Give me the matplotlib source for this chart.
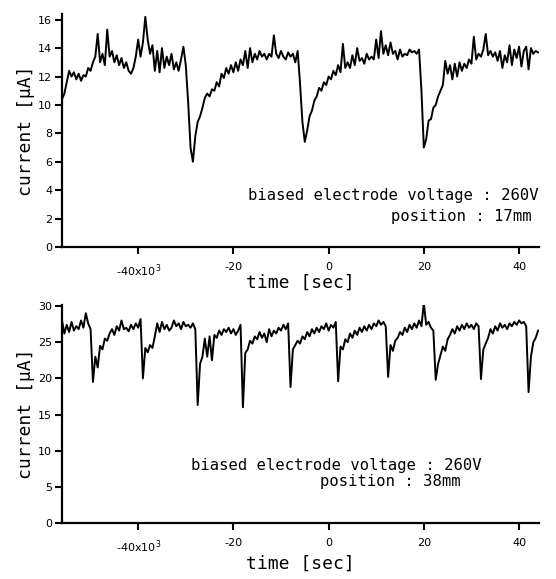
import numpy as np
import matplotlib
matplotlib.use("Agg")
import matplotlib.pyplot as plt

# time axis in units of 10^3 sec, sampled every 0.5
t_top = np.arange(-56, 44.01, 0.5)
i_top = [
    10.4, 10.8, 11.6, 12.4, 12.0, 12.3, 11.8, 12.2, 11.7, 12.1,
    12.0, 12.6, 12.4, 13.0, 13.4, 15.0, 13.0, 13.6, 12.8, 15.3,
    13.4, 13.8, 13.0, 13.5, 12.8, 13.3, 12.6, 13.0, 12.4, 12.2,
    12.6, 13.4, 14.6, 13.4, 14.4, 16.2, 14.6, 13.6, 14.2, 12.4,
    13.8, 12.3, 14.0, 12.6, 13.4, 12.8, 13.6, 12.5, 13.0, 12.4,
    13.2, 14.1, 12.8, 10.2, 7.0, 6.0, 7.8, 8.8, 9.2, 9.8,
    10.5, 10.8, 10.6, 11.1, 11.0, 11.6, 11.3, 12.2, 11.9, 12.6,
    12.2, 12.8, 12.3, 13.0, 12.4, 13.2, 12.8, 13.8, 12.6, 14.0,
    13.0, 13.6, 13.2, 13.8, 13.4, 13.6, 13.2, 13.6, 13.4, 14.9,
    13.6, 13.3, 13.8, 13.4, 13.2, 13.7, 13.4, 13.6, 13.0, 13.8,
    11.5, 8.8, 7.4, 8.2, 9.2, 9.6, 10.3, 10.6, 11.2, 11.0,
    11.6, 11.4, 12.0, 11.8, 12.4, 12.1, 12.8, 12.3, 14.3, 12.6,
    13.0, 12.6, 13.5, 12.8, 14.0, 13.1, 13.3, 12.9, 13.6, 13.2,
    13.4, 13.2, 14.6, 13.3, 15.2, 13.6, 14.2, 13.5, 14.4, 13.6,
    13.8, 13.2, 13.9, 13.4, 13.6, 13.5, 13.9, 13.7, 13.8, 13.6,
    13.9, 11.0, 7.0, 7.6, 8.9, 9.0, 9.8, 10.0, 10.6, 11.0,
    11.4, 13.1, 12.2, 12.8, 11.8, 12.9, 12.0, 13.0, 12.4, 12.9,
    12.6, 13.2, 12.9, 14.8, 13.2, 13.6, 13.4, 13.9, 15.0, 13.5,
    13.8, 13.4, 13.7, 13.1, 13.8, 12.6, 13.5, 13.0, 14.2, 12.8,
    13.9, 13.3, 14.1, 12.7, 13.8, 14.1, 12.5, 14.0, 13.6, 13.8,
    13.7,
]

t_bot = np.arange(-56, 44.01, 0.5)
i_bot = [
    28.0, 26.2, 27.4, 26.4, 27.8, 26.6, 27.2, 26.8, 28.0, 27.0,
    29.0, 27.6, 26.8, 19.5, 23.0, 21.5, 24.5, 24.0, 25.5, 25.2,
    26.2, 26.8, 26.0, 27.2, 26.6, 28.0, 26.8, 27.0, 26.5, 27.4,
    26.8, 27.6, 27.0, 28.2, 20.0, 24.2, 23.6, 24.6, 24.2, 25.8,
    27.6, 26.4, 27.8, 26.8, 27.4, 26.6, 27.0, 28.0, 27.2, 27.6,
    26.8, 27.8, 27.2, 27.4, 27.0, 27.6, 26.8, 16.3, 22.0, 23.0,
    25.5, 23.0, 25.8, 22.5, 26.0, 25.6, 26.6, 26.0, 26.8, 26.4,
    27.0, 26.2, 26.8, 26.0, 26.6, 27.4, 16.0, 23.5, 24.0, 25.2,
    24.8, 25.8, 25.4, 26.4, 25.6, 26.2, 25.0, 26.8, 25.8, 26.6,
    26.2, 27.0, 26.6, 27.4, 26.8, 27.6, 18.8, 24.0, 24.6, 25.2,
    24.8, 25.8, 25.4, 26.4, 25.8, 26.8, 26.2, 27.0, 26.4, 27.2,
    26.8, 27.6, 26.6, 27.4, 27.0, 27.8, 19.6, 24.4, 24.0, 25.4,
    25.0, 26.2, 25.6, 26.6, 26.0, 27.0, 26.4, 27.2, 26.6, 27.4,
    26.8, 27.6, 27.2, 28.0, 27.4, 27.8, 27.2, 20.2, 24.6, 23.8,
    25.2, 25.6, 26.4, 26.0, 27.0, 26.4, 27.4, 26.8, 27.6, 27.0,
    28.0, 27.2, 30.4, 27.4, 27.8, 27.0, 26.6, 19.8, 22.0, 23.2,
    24.4, 23.8, 25.4, 26.0, 26.8, 26.2, 27.2, 26.6, 27.4, 26.8,
    27.6, 27.0, 27.4, 26.8, 27.6, 27.2, 19.9, 24.0, 24.8, 25.6,
    26.8, 26.2, 27.2, 26.6, 27.6, 27.0, 27.4, 26.8, 27.6, 27.2,
    27.8, 27.4, 28.0, 27.6, 27.8, 27.2, 18.1, 23.0, 25.0, 25.6,
    26.6,
]

xticks = [-40, -20, 0, 20, 40]
xticklabels = ['-40x10$^3$', '-20', '0', '20', '40']
yticks_top = [0, 2, 4, 6, 8, 10, 12, 14, 16]
yticks_bot = [0, 5, 10, 15, 20, 25, 30]

mono = 'DejaVu Sans Mono'

fig = plt.figure(figsize=(5.56, 5.79), dpi=100)
ax1 = fig.add_axes([0.1115, 0.5734, 0.858, 0.4024])
ax2 = fig.add_axes([0.1115, 0.0967, 0.858, 0.3773])

def style(ax, yticks, ymax, xpad):
    ax.set_xlim(-56, 44.2)
    ax.set_ylim(0, ymax)
    for s in ['top', 'right']:
        ax.spines[s].set_visible(False)
    for s in ['left', 'bottom']:
        ax.spines[s].set_linewidth(1.6)
    ax.set_xticks(xticks)
    ax.set_xticklabels(xticklabels)
    ax.set_yticks(yticks)
    ax.tick_params(direction='out', length=5, width=1.5, labelsize=8, pad=2)
    ax.tick_params(axis='x', pad=6)
    ax.set_ylabel('current [μA]', fontsize=13, family=mono, labelpad=2)
    ax.set_xlabel('time [sec]', fontsize=13, family=mono, labelpad=xpad)

ax1.plot(t_top, i_top, color='black', lw=1.4)
style(ax1, yticks_top, 16.4, -4)
ax1.text(1.0, 0.22, 'biased electrode voltage : 260V', transform=ax1.transAxes,
         ha='right', va='center', fontsize=11.2, family=mono, clip_on=False)
ax1.text(0.985, 0.13, 'position : 17mm', transform=ax1.transAxes,
         ha='right', va='center', fontsize=11.2, family=mono)

ax2.plot(t_bot, i_bot, color='black', lw=1.4)
style(ax2, yticks_bot, 30.2, 0)
ax2.text(0.88, 0.265, 'biased electrode voltage : 260V', transform=ax2.transAxes,
         ha='right', va='center', fontsize=11.2, family=mono)
ax2.text(0.836, 0.19, 'position : 38mm', transform=ax2.transAxes,
         ha='right', va='center', fontsize=11.2, family=mono)

fig.savefig('out.png', dpi=100)
